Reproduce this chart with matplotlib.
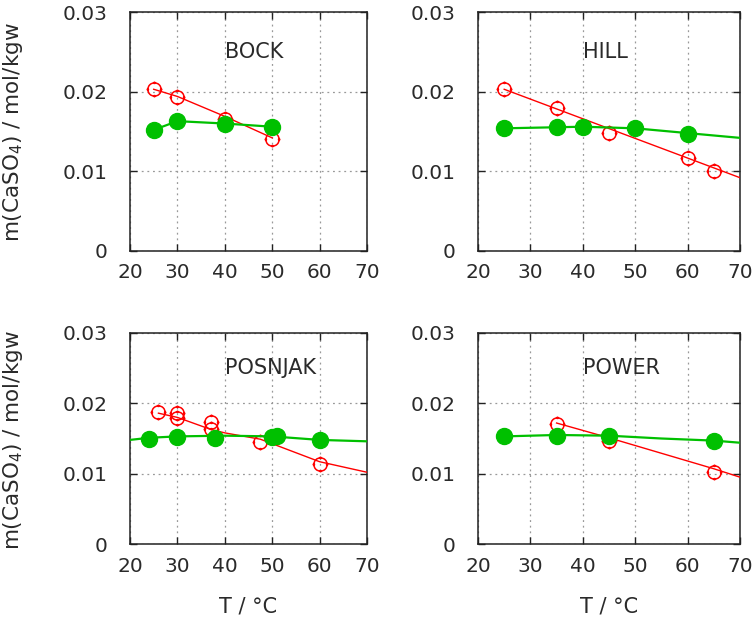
import matplotlib
matplotlib.use("Agg")
import matplotlib.pyplot as plt
from matplotlib.path import Path

# BOCK
bock_open_T = [25, 30, 40, 50]
bock_open_m = [0.0203, 0.0193, 0.0166, 0.0141]
bock_fill_T = [25, 30, 40, 50]
bock_fill_m = [0.0152, 0.0163, 0.0160, 0.0156]
bock_red_T = [25, 30, 40, 50]
bock_red_m = [0.0203, 0.0194, 0.0169, 0.0142]
bock_green_T = [25, 30, 40, 50]
bock_green_m = [0.0152, 0.0163, 0.0160, 0.0156]

# HILL
hill_open_T = [25, 35, 45, 60, 65]
hill_open_m = [0.0203, 0.0179, 0.0148, 0.0117, 0.0100]
hill_fill_T = [25, 35, 40, 50, 60]
hill_fill_m = [0.0154, 0.0156, 0.0156, 0.0154, 0.0147]
hill_red_T = [25, 40, 55, 70]
hill_red_m = [0.0203, 0.0166, 0.0129, 0.0092]
hill_green_T = [25, 40, 50, 60, 70]
hill_green_m = [0.0154, 0.0156, 0.0154, 0.0148, 0.0142]

# POSNJAK
posn_open_T = [26, 30, 30, 37, 37, 47.5, 60]
posn_open_m = [0.0187, 0.0186, 0.0179, 0.0173, 0.0164, 0.0145, 0.0114]
posn_fill_T = [24, 30, 38, 50, 51, 60]
posn_fill_m = [0.0150, 0.0152, 0.0151, 0.0152, 0.0153, 0.0148]
posn_red_T = [26, 30, 37, 40, 47.5, 60, 70]
posn_red_m = [0.0186, 0.0180, 0.0163, 0.0158, 0.0149, 0.0117, 0.0102]
posn_green_T = [20, 24, 30, 40, 50, 60, 70]
posn_green_m = [0.0148, 0.0151, 0.0153, 0.0154, 0.0153, 0.0148, 0.0146]

# POWER
power_open_T = [35, 45, 65]
power_open_m = [0.0171, 0.0146, 0.0103]
power_fill_T = [25, 35, 45, 65]
power_fill_m = [0.0153, 0.0154, 0.0154, 0.0146]
power_red_T = [35, 45, 65, 70]
power_red_m = [0.0172, 0.0151, 0.0107, 0.0095]
power_green_T = [25, 35, 45, 55, 65, 70]
power_green_m = [0.0153, 0.0155, 0.0154, 0.0150, 0.0147, 0.0144]

x_ticks = [20, 30, 40, 50, 60, 70]
y_ticks = [0, 0.01, 0.02, 0.03]
y_ticklabels = ['0', '0.01', '0.02', '0.03']

RED = '#ff0000'
GREEN = '#00c000'
TXT = '#2a2a2a'

# circle with four little ticks, like the gnuplot point
ticks = Path([(0, 0.8), (0, 1.2), (0, -0.8), (0, -1.2),
              (0.8, 0), (1.2, 0), (-0.8, 0), (-1.2, 0)],
             [Path.MOVETO, Path.LINETO] * 4)
ring = Path.make_compound_path(Path.unit_circle(), ticks)

plt.rcParams['font.family'] = ['DejaVu Sans']
plt.rcParams['font.size'] = 14.5

fig = plt.figure(figsize=(7.54, 6.17), dpi=100)

W, H = 754, 617


def axes_px(x0, x1, y0, y1):
    return fig.add_axes([x0 / W, 1 - y1 / H, (x1 - x0) / W, (y1 - y0) / H])


panels = [
    (axes_px(130, 367, 12, 251), 'BOCK',
     bock_open_T, bock_open_m, bock_fill_T, bock_fill_m,
     bock_red_T, bock_red_m, bock_green_T, bock_green_m),
    (axes_px(478, 740, 12, 251), 'HILL',
     hill_open_T, hill_open_m, hill_fill_T, hill_fill_m,
     hill_red_T, hill_red_m, hill_green_T, hill_green_m),
    (axes_px(130, 367, 333, 544), 'POSNJAK',
     posn_open_T, posn_open_m, posn_fill_T, posn_fill_m,
     posn_red_T, posn_red_m, posn_green_T, posn_green_m),
    (axes_px(478, 740, 333, 544), 'POWER',
     power_open_T, power_open_m, power_fill_T, power_fill_m,
     power_red_T, power_red_m, power_green_T, power_green_m),
]

for (ax, name, oT, om, fT, fm, rT, rm, gT, gm) in panels:
    ax.plot(rT, rm, color=RED, lw=1.0, zorder=3)
    ax.plot(oT, om, ls='none', marker=ring, mfc='none', mec=RED, mew=1.1,
            ms=11.5, zorder=4)
    ax.plot(gT, gm, color=GREEN, lw=1.6, zorder=5)
    ax.plot(fT, fm, ls='none', marker='o', color=GREEN, ms=11.5, zorder=6)
    ax.set_xlim(20, 70)
    ax.set_ylim(0, 0.03)
    ax.set_xticks(x_ticks)
    ax.set_yticks(y_ticks)
    ax.set_yticklabels(y_ticklabels)
    ax.tick_params(direction='in', top=True, right=True, length=5,
                   width=1, colors='#222222', labelcolor=TXT)
    ax.tick_params(axis='y', pad=16)
    ax.tick_params(axis='x', pad=9)
    ax.grid(True, color='#999999', lw=0.9, linestyle=(0, (1.5, 3)))
    ax.set_axisbelow(True)
    for s in ax.spines.values():
        s.set_linewidth(1.1)
        s.set_color('#222222')
    ax.text(40, 0.025, name, ha='left', va='center', fontsize=15,
            color=TXT, zorder=7)

ylab = r'm(CaSO$_4$) / mol/kgw'
fig.text(13 / W, 1 - 132 / H, ylab, rotation=90, ha='center', va='center',
         color=TXT, fontsize=15.5)
fig.text(13 / W, 1 - 440 / H, ylab, rotation=90, ha='center', va='center',
         color=TXT, fontsize=15.5)
fig.text(248 / W, 1 - 607 / H, 'T / °C', ha='center', va='center',
         color=TXT, fontsize=15)
fig.text(609 / W, 1 - 607 / H, 'T / °C', ha='center', va='center',
         color=TXT, fontsize=15)

fig.savefig('out.png', dpi=100)
